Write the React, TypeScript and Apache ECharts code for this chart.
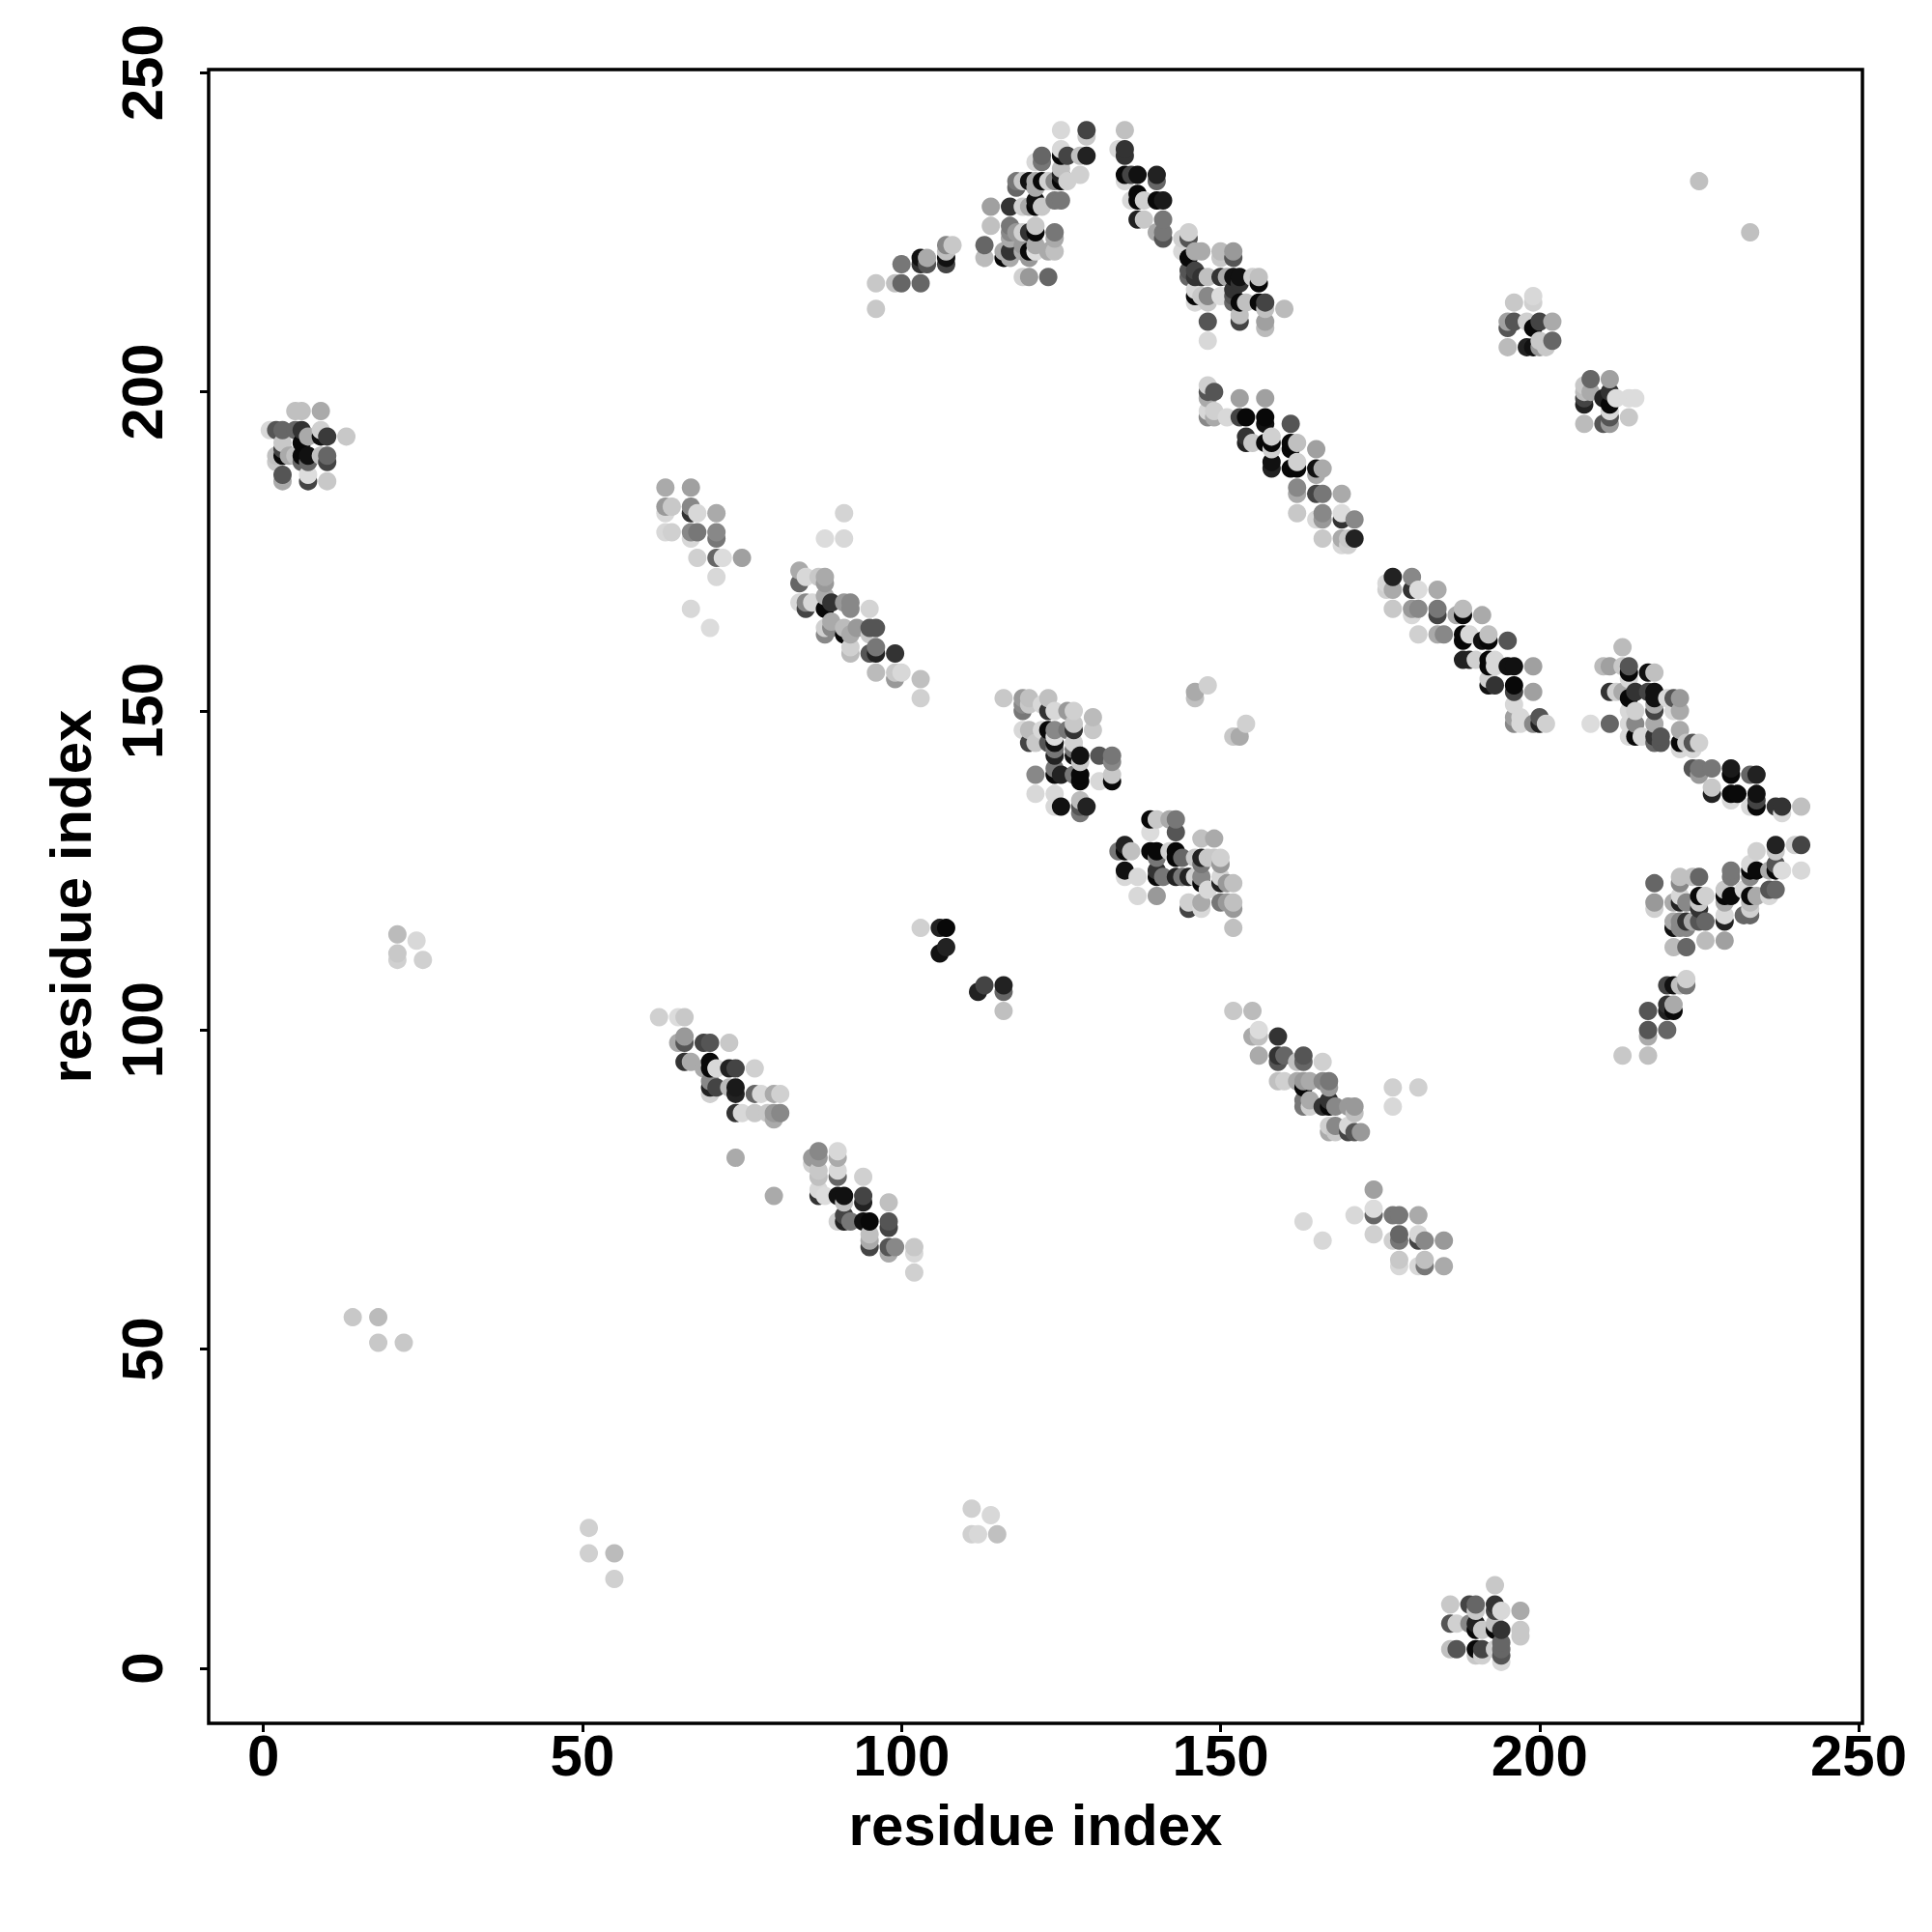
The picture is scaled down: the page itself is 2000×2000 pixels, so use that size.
import React, { useEffect, useRef } from "react";
import * as echarts from "echarts";

const B = 0x08;
type P = [number, number, number];

const xTicks = [0, 50, 100, 150, 200, 250];
const yTicks = [0, 50, 100, 150, 200, 250];
const axisName = "residue index";

// [residue x, residue y, grey level]
const clusterA: P[] = [[5,197,0xc0],[6,197,0xc0],[9,197,0xaa],[13,193,0xc8],[10,193,0x3a],[9,194,0xd0],[9,193,0x11],[1,194,0xd8],[2,194,0x55],[3,194,0x66],[3,192,0xc8],[5,194,0x66],[6,194,0x33],[6,192,B],[7,193,0xaa],[2,190,0xc0],[2,189,0xc8],[3,191,0x44],[3,190,B],[4,190,0xaa],[5,190,0xc0],[6,190,B],[6,189,0x66],[7,190,0x11],[7,189,0x66],[9,190,0xc0],[10,190,0x66],[10,189,0x44],[3,187,0x55],[3,186,0xaa],[7,187,0xdd],[7,186,0x44],[10,186,0xc8]];
const clusterB: P[] = [[63,185,0xaa],[67,185,0xa0],[63,182,0x99],[63,181,0xd8],[64,182,0xc8],[67,182,0x88],[67,181,0x33],[68,181,0xd8],[71,181,0xaa],[63,178,0xd8],[64,178,0xd0],[67,178,0x88],[67,177,0xd8],[68,178,0x77],[71,178,0x88],[71,177,0x77],[68,174,0xd0],[71,174,0x66],[72,174,0xdc],[75,174,0xa0],[71,171,0xd8],[67,166,0xd8],[70,163,0xdc],[91,181,0xd4],[88,177,0xdc],[91,177,0xd8]];
const clusterC: P[] = [[84,172,0xaa],[84,170,0x66],[85,171,0xd8],[87,171,0xc8],[88,171,0xaa],[88,170,0x99],[84,167,0xd8],[85,167,0x88],[85,166,0x44],[86,167,0xd8],[88,168,0xaa],[88,166,B],[89,167,0x33],[91,167,0x99],[92,167,0x88],[92,166,0x88],[95,166,0xd4],[88,163,0xd0],[88,162,0x88],[89,164,0xaa],[89,163,0x88],[91,163,0xbb],[91,162,B],[93,163,0x99],[92,162,0xaa],[95,163,0x55],[96,163,0x55],[95,162,0xc8],[92,160,0xd0],[92,159,0xbb],[95,159,0x55],[96,160,0x77],[96,159,0x22],[99,159,0x33],[96,156,0xbb],[99,156,0xc8],[99,155,0x99],[100,156,0xd8],[103,155,0xc0],[103,152,0xd0]];
const clusterD: P[] = [[116,152,0xc8],[119,152,0x99],[119,151,0x88],[119,150,0x77],[120,152,0xc0],[120,151,0xc8],[123,152,0xc0],[122,151,0xd8],[123,150,0x33],[124,150,0xd8],[126,150,0x99],[127,150,0xd0],[127,148,0xc8],[127,147,0x33],[126,147,0x77],[130,149,0xbb],[130,147,0xc8],[119,147,0xd8],[120,147,0xbb],[120,145,0x44],[121,145,0xc8],[122,147,0xd8],[123,147,B],[124,147,0x88],[123,145,0x55],[124,146,0xdd],[124,145,0x11],[124,144,0x77],[124,143,0x22],[127,145,0xd0],[127,144,0x77],[127,143,0x11],[128,143,0x11],[128,142,0xc8],[131,143,0x55],[133,143,0x77],[133,142,0x88],[121,140,0x88],[124,141,0x77],[124,140,B],[125,140,0x22],[127,140,0x77],[128,140,B],[128,139,B],[131,139,0xd8],[133,140,0xc8],[133,139,B],[121,137,0xd8],[124,137,0xd8],[124,135,0xd8],[125,135,0x11],[128,136,0xbb],[128,134,0x77],[128,135,0x55],[129,135,0x22]];
const clusterE: P[] = [[139,133,B],[140,133,0xc8],[142,133,0xaa],[143,133,0x77],[143,131,0x55],[139,131,0xdc],[147,130,0xc0],[149,130,0xaa],[134,128,0x77],[135,129,0x22],[135,128,B],[136,128,0xc0],[139,128,B],[140,128,B],[140,127,0x77],[142,128,0xd0],[143,128,B],[143,127,B],[144,127,0x66],[146,127,0xc8],[147,127,0x22],[147,126,0x77],[148,127,0xc8],[149,127,0xc8],[150,127,0xd0],[150,126,0x99],[135,125,0x11],[135,124,0xd8],[137,124,0xd8],[140,125,0x33],[140,124,B],[141,124,0x77],[143,124,0x22],[144,124,0x77],[145,124,0x22],[146,124,0xd0],[147,124,0x88],[147,123,B],[148,122,0xd8],[150,124,0xd8],[150,123,0x22],[151,123,0x99],[152,123,0xc0],[137,121,0xd8],[140,121,0x99],[145,119,0x44],[145,120,0xd0],[147,119,0xd8],[147,120,0xaa],[150,120,0x77],[151,120,0x99],[152,119,0x99],[152,120,0xc0],[152,116,0xc0],[146,153,0xaa],[146,152,0xc0],[148,154,0xd0],[152,146,0xc8],[153,146,0xaa],[154,148,0xd0]];
const clusterF: P[] = [[96,217,0xc8],[96,213,0xc8],[99,217,0xc0],[100,217,0x66],[100,220,0x77],[103,217,0x66],[103,221,0x11],[103,220,0x33],[104,220,0x55],[104,221,0xaa],[107,220,0x44],[107,221,0x11],[107,222,0xc0],[107,223,0x88],[108,223,0xc8],[113,223,0x66],[113,221,0xbb],[114,229,0xa0],[114,226,0xc0],[117,229,0x33],[118,233,0x77],[118,232,0x66],[119,233,0xc8],[119,229,0xd0],[117,226,0x77],[117,225,0x88],[118,225,0x99],[117,224,0xaa],[117,222,0x33],[116,222,0xaa],[116,221,B],[117,221,0xaa],[119,222,0xaa],[120,221,0x99],[119,218,0xd0],[120,218,0x99],[123,218,0x66],[122,237,0x66],[122,236,0x77],[121,236,0xd8],[125,238,0xd8],[125,237,B],[126,237,0x44],[128,237,0xc0],[129,237,0x22],[125,241,0xd8],[129,240,0xc8],[129,241,0x44],[128,234,0xd0],[126,233,0xd0],[125,234,0x22],[125,233,B],[125,235,0xc0],[124,233,0x88],[123,233,0xd0],[122,233,B],[121,233,0xaa],[121,232,0xaa],[120,233,0x11],[121,229,B],[122,229,0xc8],[120,229,0xaa],[121,230,0x11],[124,230,0x77],[125,230,0x77],[121,226,0xc8],[121,225,B],[120,225,0x33],[119,225,0xd0],[124,225,0x77],[124,224,0xaa],[121,223,0xaa],[119,223,0x99],[121,222,0xdc],[120,222,B],[123,222,0xaa],[124,222,0xc0]];
const clusterG: P[] = [[135,241,0xc0],[134,238,0xd8],[135,238,0x33],[135,237,0x33],[135,234,B],[135,233,0xd8],[136,234,0x44],[137,234,0x11],[140,234,0x22],[140,233,0x66],[137,231,B],[137,230,B],[136,230,0xd8],[138,230,0xd0],[140,230,B],[141,230,0x1a],[137,227,0x22],[138,227,0xc8],[141,227,0x77],[140,225,0xaa],[141,225,0x77],[141,224,0x55],[144,224,0xd0],[145,225,0xd0],[145,224,0x55],[144,222,0xd8],[145,221,B],[146,222,0xaa],[147,222,0xaa],[150,222,0xbb],[150,221,0xc8],[152,222,0x99],[152,221,0x55],[145,219,0x55],[146,219,0x44],[145,218,0x66],[146,218,0x33],[147,218,0x33],[148,218,0xc0],[150,218,0x33],[151,218,0xaa],[152,218,0x11],[153,218,0x11],[153,217,0x33],[152,216,0x33],[155,218,0xd0],[156,217,B],[156,218,0xc0],[146,216,0xd8],[146,215,B],[146,214,0xd8],[147,215,0xc8],[148,215,0x88],[148,214,0xc8],[150,215,0xdc],[151,215,0xdc],[152,215,0x55],[152,214,0x66],[153,214,B],[154,214,0xc0],[156,214,B],[157,214,0x44],[157,213,0xc0],[160,213,0xbb],[153,212,0xc0],[153,211,0x44],[157,211,0xa0],[157,210,0xbb],[148,211,0x55],[148,208,0xd8]];
const clusterH: P[] = [[148,201,0xd0],[148,200,0x55],[149,200,0x55],[148,199,0xaa],[148,197,0xd8],[148,196,0x88],[149,196,0xaa],[149,197,0xd0],[151,196,0xd8],[153,199,0xa0],[157,199,0xa0],[153,196,0x44],[154,196,0x08],[157,196,B],[157,195,0x11],[161,195,0x55],[154,193,0x33],[154,192,0x22],[155,192,0xc8],[157,192,B],[158,193,0xd0],[158,192,B],[158,191,0xd0],[161,192,B],[161,191,B],[162,192,0xc0],[165,191,0xa0],[158,189,0x11],[158,188,0x22],[161,188,B],[162,188,B],[162,189,0xd0],[165,188,0x11],[165,187,0xaa],[166,188,0xaa],[162,185,0x88],[162,184,0xaa],[165,184,0x44],[166,184,0x77],[169,184,0xaa],[162,181,0xc8],[165,180,0xd8],[166,181,0x88],[166,180,0x99],[169,181,0xdc],[169,180,0x33],[171,180,0x88],[166,177,0xc8],[169,177,0xaa],[170,177,0xc8],[169,176,0xd8],[170,176,0xd0],[171,177,0x22]];
const clusterI: P[] = [[196,214,0xc8],[199,215,0xd8],[199,214,0xd0],[195,211,0xa0],[195,210,0x55],[196,211,0x55],[198,211,0xd0],[199,210,B],[200,211,0x44],[202,211,0xaa],[195,207,0xbb],[198,207,0x22],[199,207,0x11],[200,207,0x99],[200,208,0xc8],[201,207,0xc8],[202,208,0x66]];
const clusterJ: P[] = [[207,198,0x22],[207,199,0x44],[207,200,0xbb],[207,201,0xc8],[208,200,0xaa],[208,202,0x66],[211,202,0xa0],[210,199,0x22],[211,200,0x33],[211,198,B],[211,197,0xd8],[212,199,0xdc],[214,199,0xdc],[215,199,0xdc],[207,195,0xbb],[210,195,0x55],[211,195,0x99],[211,196,0x55],[214,196,0xc8]];
const clusterK: P[] = [[177,171,0x22],[176,170,0xd8],[176,169,0xd0],[177,169,0xaa],[180,171,0x88],[180,169,0x33],[181,169,0xdc],[184,169,0xaa],[177,166,0xc8],[180,166,0x99],[181,166,0x88],[180,165,0xd8],[184,166,0x77],[184,165,0x44],[187,165,0xaa],[188,166,0xbb],[188,165,B],[191,165,0xaa],[181,162,0xd0],[184,162,0xaa],[185,162,0x88],[188,162,B],[188,161,B],[189,162,0xd8],[191,161,0x11],[192,162,0xc0],[192,161,B],[195,161,0x55],[188,158,0x22],[189,158,0x22],[190,158,0xd0],[192,158,B],[193,158,0xd8],[192,157,B],[193,157,0xd8],[195,157,0x11],[196,157,0x11],[199,157,0xa0],[192,155,0xd0],[192,154,0x11],[193,154,0x33],[196,154,B],[196,153,0x44],[199,153,0xa0],[196,151,0xd8],[196,149,0xa0],[196,148,0x88],[197,149,0xd8],[197,148,0xd8],[199,148,0x88],[200,149,0x55],[200,148,0x22],[201,148,0xd0]];
const clusterL: P[] = [[213,160,0xbb],[210,157,0xbb],[211,157,0xa0],[213,157,0xc8],[214,157,0x55],[214,156,B],[214,155,0xd8],[217,156,0x11],[218,156,0xc0],[211,153,0x33],[212,153,0xd0],[213,153,0xaa],[214,152,B],[215,153,0x33],[217,153,0x44],[218,153,0x11],[218,152,0x11],[220,152,0xd8],[221,152,0x55],[222,152,0x99],[214,150,0xd8],[215,150,0xd0],[218,151,0xaa],[218,150,0x44],[221,150,0xd8],[222,150,0xaa],[208,148,0xdc],[211,148,0x66],[214,148,0xd8],[215,148,0x88],[218,148,0xaa],[214,146,0xd8],[215,146,B],[216,146,0xd8],[218,146,0x33],[219,146,0x55],[218,145,0x66],[219,145,0x55],[222,147,0xaa],[222,145,B],[222,144,0xd8],[223,145,0xc8],[224,145,0x55],[224,144,0xd8],[225,145,0xd0],[224,141,0x55],[225,141,0x77],[225,140,0x99],[227,141,0x77],[230,141,0x1a],[230,140,B],[233,140,0x66],[234,140,0x22],[227,138,0xc8],[227,137,0x22],[230,137,B],[230,136,0xd8],[231,137,0x0a],[233,135,0xd8],[234,137,0x11],[234,136,0x44],[234,135,B],[237,135,0x33],[238,135,0x33],[238,134,0xd8],[241,135,0xc0]];
const clusterM: P[] = [[237,129,0x22],[237,128,0xc8],[240,129,0xd0],[241,129,0x44],[234,128,0xd0],[241,125,0xd8],[233,126,0xd8],[233,125,B],[234,125,0x0a],[236,125,0xaa],[237,126,0x55],[237,125,B],[238,125,0xdc],[230,125,0x77],[230,124,0x77],[233,124,0x88],[236,122,0x55],[237,122,0x66],[236,121,0xd8],[229,122,0xc8],[229,121,B],[230,121,0x0a],[232,122,0xd8],[233,121,B],[234,121,0xaa],[233,120,0xbb],[229,120,0xaa],[229,118,0xd8],[229,117,0x22],[232,118,0x66],[233,118,0x66],[233,119,0xd0],[222,124,0xc0],[222,123,0x88],[224,124,0xc0],[225,124,0x66],[218,123,0x66],[218,120,0x99],[218,119,0xd0],[221,120,0xaa],[221,117,0xaa],[221,116,0x11],[222,121,0xd8],[222,120,0x22],[222,117,0x88],[223,120,0x88],[223,117,0x33],[224,117,0xaa],[225,120,0xc8],[225,119,0x33],[225,121,B],[226,121,0xd0],[225,117,0x55],[226,117,0x66],[223,116,0x88],[222,116,0x88],[221,113,0xbb],[223,113,0x66],[226,114,0xbb],[229,114,0xa0]];
const clusterN: P[] = [[220,107,0x44],[221,107,0x11],[222,107,0xc0],[223,107,0x77],[223,108,0xd0],[220,104,0x33],[220,103,0x22],[221,103,B],[221,104,0xaa],[217,103,0x55],[217,100,0x55],[217,99,0xaa],[220,100,0x66],[213,96,0xc8],[217,96,0xc0]];
const clusterO: P[] = [[103,116,0xd0],[106,116,0x22],[107,116,B],[106,112,0x11],[107,113,0x22],[112,106,0x22],[113,107,0x44],[116,107,0x22],[116,106,0x66],[116,103,0xc0]];
const clusterP: P[] = [[62,102,0xd0],[65,102,0xdc],[66,102,0xc8],[65,98,0xaa],[66,99,0x99],[66,98,0x55],[69,98,0x44],[70,98,0x55],[73,98,0xc8],[66,95,0x33],[67,95,0xaa],[69,94,0xaa],[70,95,B],[70,94,B],[71,94,0xd8],[73,94,0x22],[74,94,0x44],[77,94,0xd0],[70,92,0x88],[70,90,0xd0],[70,91,0x22],[71,91,0x44],[73,91,0xbb],[74,91,0x1a],[74,90,0x22],[77,90,0x66],[78,90,0xd8],[80,90,0xaa],[81,90,0xd0],[74,87,0x33],[75,87,0xd8],[77,87,0xc8],[79,87,0xc8],[80,86,0xaa],[80,87,0x99],[81,87,0x88],[74,80,0xaa],[80,74,0xaa]];
const clusterQ: P[] = [[86,80,0x99],[87,81,0x88],[87,80,0x99],[86,79,0xd0],[90,81,0xd8],[90,80,0xaa],[87,78,0xc8],[87,77,0xc0],[90,78,0xd8],[90,77,0x66],[94,77,0xd0],[87,74,0x33],[87,75,0xd8],[88,74,0xdc],[90,74,0x11],[91,74,0x11],[91,73,0xc0],[94,74,0x44],[94,73,0x22],[98,73,0xc0],[90,70,0xd0],[91,71,0x44],[91,70,0x22],[92,70,0x77],[94,70,0x11],[95,70,B],[98,70,0x55],[98,69,0x44],[95,68,0xc0],[95,67,0xaa],[95,66,0x44],[98,66,0x55],[98,65,0xaa],[99,66,0x88],[102,66,0xc8],[102,65,0xd8],[102,62,0xd0]];
const clusterR: P[] = [[152,103,0xc8],[155,103,0xbb],[155,99,0xaa],[156,100,0xdc],[156,99,0xc0],[159,99,0x33],[156,96,0xaa],[159,96,0x33],[159,95,0x55],[160,96,0x66],[162,95,0xc0],[163,96,0x55],[163,95,0x66],[166,95,0xd0],[159,92,0xc0],[160,92,0xd0],[162,92,0xaa],[163,92,0x99],[163,91,B],[164,92,0xaa],[166,92,0x88],[167,92,0x77],[167,91,0x99],[163,89,0x77],[163,88,0x77],[164,89,0xaa],[164,88,0xd0],[166,88,0x33],[167,89,0x33],[167,88,B],[168,88,0x88],[170,88,0x99],[171,88,0x99],[171,87,0xc0],[167,85,0xd0],[167,84,0xaa],[168,85,0x88],[168,84,0xc8],[170,85,0xd8],[170,84,0x44],[171,84,0x55],[172,84,0x99],[177,91,0xd0],[181,91,0xd0],[177,88,0xd8]];
const clusterS: P[] = [[174,75,0xa0],[171,71,0xd8],[174,72,0xdc],[174,71,0x66],[177,71,0x77],[178,71,0x77],[181,71,0xaa],[163,70,0xd8],[166,67,0xd8],[174,68,0xd0],[177,67,0xd0],[178,68,0x66],[178,67,0x77],[181,68,0xd8],[181,67,0x44],[182,67,0x88],[185,67,0x99],[178,64,0xc8],[178,63,0xd8],[181,63,0xd8],[182,64,0xc0],[182,63,0x77],[185,63,0xaa]];
const clusterT: P[] = [[193,13,0xc8],[186,10,0xc8],[189,10,0x44],[190,10,0x66],[190,9,0xc8],[193,10,0x33],[193,9,0x44],[194,9,0xd8],[197,9,0xaa],[186,7,0x55],[187,7,0xd0],[189,7,0x88],[190,7,0x22],[190,6,B],[191,6,0xc8],[193,6,B],[193,7,0xc0],[194,6,0x33],[197,6,0xc8],[197,5,0xc8],[186,3,0xc0],[187,3,0x55],[190,3,B],[190,2,0xc8],[191,3,0x44],[191,2,0xd0],[193,3,0xd0],[194,4,0x66],[194,3,0x66],[194,2,0x55],[194,1,0xd8]];
const clusterU: P[] = [[21,115,0xbb],[21,112,0xc8],[21,111,0xd0],[24,114,0xd8],[25,111,0xd0],[14,55,0xc8],[18,55,0xbb],[18,51,0xc8],[22,51,0xc8],[51,22,0xd0],[51,18,0xd0],[55,18,0xbb],[55,14,0xd0],[111,25,0xd0],[111,21,0xd0],[112,21,0xd8],[114,24,0xd8],[115,21,0xc0],[225,233,0xc0],[233,225,0xc0]];

const allPoints: P[] = [clusterA, clusterB, clusterC, clusterD, clusterE, clusterF, clusterG, clusterH, clusterI, clusterJ, clusterK, clusterL, clusterM, clusterN, clusterO, clusterP, clusterQ, clusterR, clusterS, clusterT, clusterU]
  .flat()
  .sort((a, b) => a[0] - b[0] || a[1] - b[1]);

const FONT = "Liberation Sans";

export default function App() {
  const ref = useRef<HTMLDivElement>(null);
  useEffect(() => {
    const chart = echarts.init(ref.current!, null, { renderer: "svg" });
    const tickStyle = { show: true, length: 9, lineStyle: { color: "#000", width: 3 } };
    chart.setOption({
      animation: false,
      backgroundColor: "#fff",
      grid: { left: 216, top: 72, width: 1712, height: 1712, show: true, borderColor: "#000", borderWidth: 3.5, backgroundColor: "#fff" },
      xAxis: {
        type: "value", min: -8.58, max: 250.6,
        splitLine: { show: false },
        axisLine: { show: false, onZero: false },
        axisTick: { ...tickStyle, customValues: xTicks },
        axisLabel: { customValues: xTicks, color: "#000", fontFamily: FONT, fontWeight: "bold", fontSize: 60, margin: 3, hideOverlap: false, showMinLabel: true, showMaxLabel: true },
        name: axisName, nameLocation: "middle", nameGap: 75,
        nameTextStyle: { color: "#000", fontFamily: FONT, fontWeight: "bold", fontSize: 60 },
      },
      yAxis: {
        type: "value", min: -8.63, max: 250.5,
        splitLine: { show: false },
        axisLine: { show: false, onZero: false },
        axisTick: { ...tickStyle, customValues: yTicks },
        axisLabel: { customValues: yTicks, rotate: 90, color: "#000", fontFamily: FONT, fontWeight: "bold", fontSize: 60, margin: 39, hideOverlap: false, showMinLabel: true, showMaxLabel: true },
        name: axisName, nameLocation: "middle", nameGap: 113, nameRotate: 90,
        nameTextStyle: { color: "#000", fontFamily: FONT, fontWeight: "bold", fontSize: 60 },
      },
      series: [{
        type: "scatter",
        symbol: "circle",
        symbolSize: 19,
        clip: false,
        data: allPoints,
        encode: { x: 0, y: 1 },
        itemStyle: {
          opacity: 1,
          color: (p: any) => { const g = p.value[2]; return `rgb(${g},${g},${g})`; },
        },
      }],
    });
    return () => chart.dispose();
  }, []);
  return <div ref={ref} style={{ position: "absolute", left: 0, top: 0, width: 2000, height: 2000 }} />;
}
